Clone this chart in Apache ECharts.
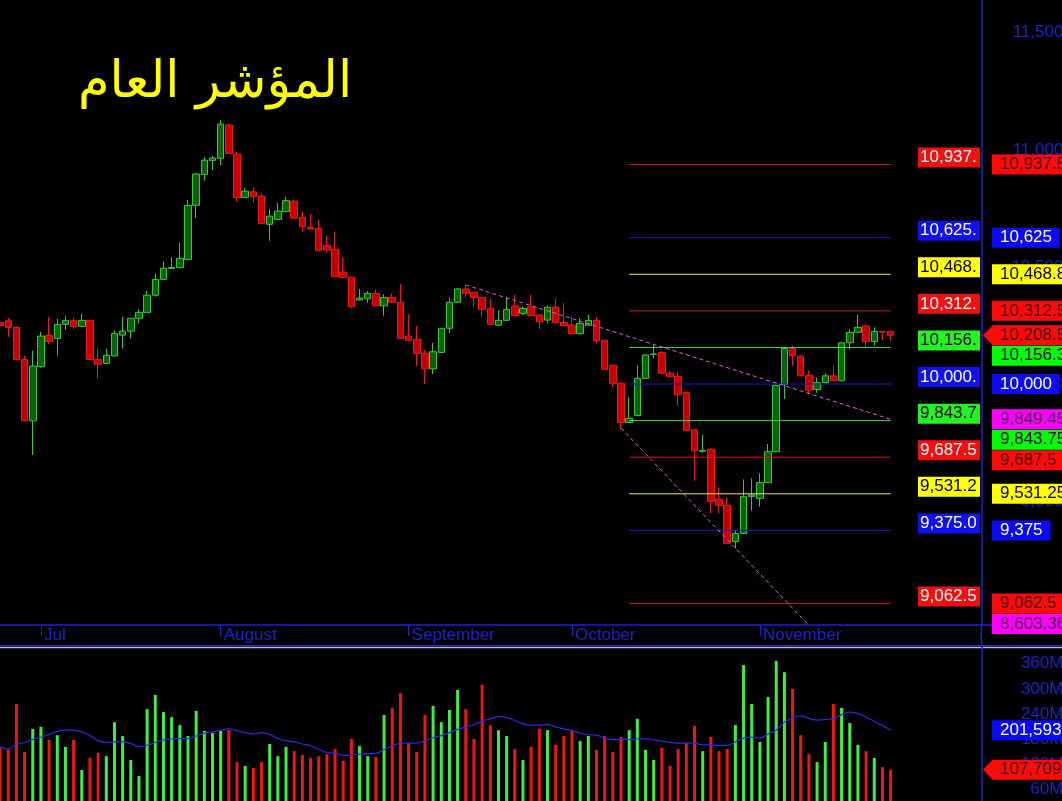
<!DOCTYPE html>
<html><head><meta charset="utf-8">
<style>html,body{margin:0;padding:0;background:#000;}#c{width:1062px;height:801px;}</style>
<script src="https://cdn.jsdelivr.net/npm/echarts@6/dist/echarts.min.js"></script>
</head><body><div id="c"></div>
<script>
// ---------------- DATA ----------------
const chartTitle = 'المؤشر العام';
const opens = [10262,10270,10242,10105,9843,10074,10208,10195,10255,10272,
 10246,10272,10105,10088,10120,10209,10226,10281,10306,10379,
 10447,10494,10497,10532,10763,10895,10955,10964,11106,10982,
 10797,10821,10803,10682,10703,10736,10781,10712,10669,10665,
 10592,10576,10478,10456,10359,10364,10387,10334,10370,10349,
 10205,10191,10131,10065,10135,10238,10349,10406,10392,10370,
 10323,10251,10272,10333,10302,10330,10295,10273,10329,10263,
 10252,10215,10251,10272,10187,10080,10003,9836,9865,10024,
 10126,10134,10046,10033,9965,9804,9713,9721,9508,9483,
 9327,9362,9520,9512,9579,9711,9999,10152,10120,10037,
 9977,10006,10035,10014,10176,10221,10248,10182,10225,10225];
const closes = [10250,10242,10105,9843,10077,10205,10182,10255,10272,10246,
 10272,10105,10084,10123,10216,10226,10281,10306,10379,10447,
 10494,10498,10537,10763,10897,10956,10965,11110,10985,10796,
 10824,10800,10686,10717,10739,10783,10708,10672,10662,10569,
 10572,10458,10456,10330,10367,10387,10334,10370,10349,10195,
 10185,10131,10065,10138,10238,10349,10406,10387,10370,10319,
 10255,10272,10319,10292,10323,10293,10266,10328,10262,10249,
 10215,10259,10272,10185,10063,10003,9836,9854,10024,10124,
 10128,10046,10031,9954,9801,9715,9716,9499,9482,9320,
 9362,9519,9526,9579,9711,9994,10152,10121,10035,9974,
 10006,10035,10014,10176,10221,10242,10181,10225,10222,10208.5];
const lows = [10240,10201,10100,9840,9697,10070,10171,10120,10231,10234,
 10244,10103,10024,10085,10118,10152,10195,10259,10304,10373,
 10445,10492,10495,10530,10708,10868,10914,10935,10983,10778,
 10795,10778,10684,10612,10700,10734,10706,10650,10660,10567,
 10561,10456,10454,10323,10357,10347,10332,10292,10347,10193,
 10183,10077,10000,10043,10133,10219,10347,10370,10330,10287,
 10253,10249,10270,10290,10295,10291,10235,10259,10260,10247,
 10213,10213,10249,10174,10060,9986,9807,9834,9863,10022,
 10110,10044,10029,9906,9798,9587,9707,9448,9448,9318,
 9298,9360,9459,9476,9577,9709,9936,10078,10033,9957,
 9963,10004,10012,10012,10148,10219,10159,10164,10188,10185];
const highs = [10275,10282,10245,10120,10142,10222,10287,10278,10290,10282,
 10300,10274,10152,10151,10228,10287,10282,10319,10398,10470,
 10525,10542,10603,10786,10900,10968,10974,11127,11110,10992,
 10836,10840,10817,10746,10774,10800,10789,10736,10726,10700,
 10632,10650,10541,10458,10406,10397,10404,10383,10387,10427,
 10299,10248,10145,10176,10240,10370,10410,10423,10394,10372,
 10363,10316,10370,10380,10330,10380,10297,10336,10366,10347,
 10285,10281,10295,10287,10190,10082,10005,9943,10081,10127,
 10167,10142,10056,10053,9968,9808,9782,9725,9559,9516,
 9377,9593,9597,9619,9744,9998,10156,10164,10123,10057,
 10027,10046,10078,10180,10234,10295,10256,10242,10226,10226];
// volume in millions
const volumesM = [161,156,264,150,205,210,179,190,162,179,
 107,136,148,140,221,188,131,93,252,286,
 245,233,214,188,248,200,195,200,202,126,
 117,112,126,169,140,162,152,143,136,140,
 145,157,129,181,164,140,138,238,255,290,
 171,150,238,260,221,250,298,252,181,310,
 214,202,188,157,131,162,205,202,167,188,
 200,176,188,155,188,150,186,202,229,155,
 131,160,117,157,171,212,152,186,152,157,
 214,357,264,174,281,367,340,300,190,145,
 126,174,264,255,219,167,152,136,114,107.709];
// volume moving average, millions
const volumeAvgM = [163,157,169,172,180,185,192,199,202,202,
 198,189,177,172,174,174,170,163,166,173,
 179,181,182,182,188,195,198,202,205,201,
 196,193,196,192,182,177,174,169,165,156,
 149,147,142,143,145,146,147,156,164,171,
 171,171,177,184,189,196,204,210,215,224,
 229,234,232,225,217,214,214,215,210,205,
 201,195,191,190,183,179,180,180,181,182,
 179,176,173,171,171,171,167,167,166,166,
 174,183,185,183,193,202,221,231,236,230,
 226,227,230,239,245,242,233,223,213,201.593];
const monthTickIndex = [5, 27, 50, 70, 93];
const monthLabels = ['Jul', 'August', 'September', 'October', 'November'];
const levelValues = [10937.5, 10625, 10468.75, 10312.5, 10156.25, 10000, 9843.75, 9687.5, 9531.25, 9375, 9062.5];
const levelColors = ['red','blue','yellow','red','green','blue','green','red','yellow','blue','red'];
const levelFrom = 77, levelTo = 109;
const upperTrend = [[57, 10423], [109, 9849.45]];
const lowerTrend = [[76, 9812], [109, 8603.36]];
const priceTickLabels = [9000, 9500, 10000, 10500, 11000, 11500];
const volumeTickLabelsM = [60, 120, 180, 240, 300, 360];

// ---------------- LAYOUT / STYLE ----------------
const SLOTS = 120, BAND = 8.17, GL = -4, GW = SLOTS * BAND;
const PT = 0, PH = 625, PMIN = 8971, PMAX = 11640;
const VT = 647, VH = 168, VMAX = 400;
const FONT = '"Liberation Sans", Arial, sans-serif';
const AXIS_BLUE = '#2020cc';
const GREEN_BORDER = '#33cc33', GREEN_FILL = '#0b620b', RED_BORDER = '#ee1a1a', RED_FILL = '#c40000';
const VOL_GREEN = '#3ef03e', VOL_RED = '#ee1616';
const PAL = {
  red:    {line:'#d81818', inBg:'#f01010', inText:'#ffffff', tagBg:'#ff0a0a', tagText:'#3a0000'},
  blue:   {line:'#1818d0', inBg:'#1010f0', inText:'#ffffff', tagBg:'#0a0af4', tagText:'#ffffff'},
  yellow: {line:'#eeee60', inBg:'#ffff10', inText:'#000000', tagBg:'#ffff00', tagText:'#000000'},
  green:  {line:'#44dd44', inBg:'#22f422', inText:'#000000', tagBg:'#00ff00', tagText:'#000000'},
  magenta:{tagBg:'#ff00ff', tagText:'#4a004a'}
};
const pxToX = px => (px - GL) / BAND - 0.5;
const IN_LABEL_X = pxToX(918), TAG_X = pxToX(988);
const ARROW = 'path://M0,10L10,0L10,20Z';

function commas(s){ const p = String(s).split('.'); return p[0].replace(/\B(?=(\d{3})+(?!\d))/g, ',') + (p[1] ? '.' + p[1] : ''); }
function fmt6(v){ let s = Number(v).toPrecision(6); if (s.indexOf('.') >= 0) s = s.replace(/0+$/, '').replace(/\.$/, ''); return commas(s); }

const cats = Array.from({length: SLOTS}, (_, i) => String(i));
const n = opens.length;
const last = n - 1;

// price tags (right side)
const priceTags = levelValues.map((v, i) => ({v, bg: PAL[levelColors[i]].tagBg, fg: PAL[levelColors[i]].tagText, arrow:false}));
priceTags.push({v: closes[last], bg: PAL.red.tagBg, fg: PAL.red.tagText, arrow:true});
priceTags.push({v: upperTrend[1][1], bg: PAL.magenta.tagBg, fg: PAL.magenta.tagText, arrow:false});
priceTags.push({v: lowerTrend[1][1], bg: PAL.magenta.tagBg, fg: PAL.magenta.tagText, arrow:false});
// collision handling: clamp tag into the pane and push overlapping tags down
const yPix = v => PT + (PMAX - v) / (PMAX - PMIN) * PH;
priceTags.forEach(t => { t.raw = yPix(t.v); t.y = Math.min(t.raw, PT + PH - 1); });
const sorted = priceTags.slice().sort((a, b) => a.y - b.y);
for (let i = 1; i < sorted.length; i++) if (sorted[i].y < sorted[i-1].y + 20.5) sorted[i].y = sorted[i-1].y + 20.5;
priceTags.forEach(t => t.dy = t.y - t.raw);

function tagItem(t, text){
  return {
    value: [TAG_X, t.v], name: text,
    symbol: t.arrow ? ARROW : 'circle', symbolSize: t.arrow ? [10, 20] : 0,
    symbolOffset: [0, t.dy],
    itemStyle: {color: t.bg, opacity: 1},
    label: {backgroundColor: t.bg, color: t.fg, distance: t.arrow ? -1 : 4}
  };
}
const tagLabelBase = {show: true, position: 'right', formatter: '{b}', fontSize: 17, fontFamily: FONT, padding: [2, 8, 1, 8], lineHeight: 17, opacity: 1};

const series = [];
// candles
series.push({
  type: 'candlestick', xAxisIndex: 0, yAxisIndex: 0, barWidth: 7,
  data: opens.map((o, i) => [o, closes[i], lows[i], highs[i]]),
  itemStyle: {color: GREEN_FILL, color0: RED_FILL, borderColor: GREEN_BORDER, borderColor0: RED_BORDER, borderWidth: 1}
});
// level lines
levelValues.forEach((v, i) => series.push({
  type: 'line', xAxisIndex: 1, yAxisIndex: 0, symbol: 'none', silent: true,
  data: [[levelFrom, v], [levelTo, v]],
  lineStyle: {color: PAL[levelColors[i]].line, width: 1}
}));
// trend lines
[upperTrend, lowerTrend].forEach(tr => series.push({
  type: 'line', xAxisIndex: 1, yAxisIndex: 0, symbol: 'none', silent: true, clip: true,
  data: tr, lineStyle: {color: '#d860d8', width: 1, type: [4, 3]}
}));
// in-plot labels
series.push({
  type: 'scatter', xAxisIndex: 1, yAxisIndex: 0, symbolSize: 0, clip: false, silent: true, z: 6,
  itemStyle: {opacity: 1},
  data: levelValues.map((v, i) => ({value: [IN_LABEL_X, v], label: {backgroundColor: PAL[levelColors[i]].inBg, color: PAL[levelColors[i]].inText}})),
  label: {show: true, position: 'right', distance: 0, offset: [0, -7], formatter: p => commas(p.value[1].toFixed(2)), opacity: 1,
    fontSize: 17, fontFamily: FONT, padding: [2, 0, 1, 2], lineHeight: 17, width: 60, overflow: 'truncate', ellipsis: ''}
});
// price tags
series.push({
  type: 'scatter', xAxisIndex: 1, yAxisIndex: 0, clip: false, silent: true, z: 8,
  itemStyle: {opacity: 1},
  data: priceTags.map(t => tagItem(t, fmt6(t.v))),
  label: tagLabelBase
});
// volume bars
series.push({
  type: 'bar', xAxisIndex: 2, yAxisIndex: 1, barWidth: 3, silent: true,
  data: volumesM.map((v, i) => ({value: v, itemStyle: {color: closes[i] >= opens[i] ? VOL_GREEN : VOL_RED}}))
});
series.push({
  type: 'line', xAxisIndex: 2, yAxisIndex: 1, symbol: 'none', smooth: 0.4, silent: true,
  data: volumeAvgM, lineStyle: {color: '#2a2ae8', width: 1.2}
});
// volume tags
const volTags = [
  {v: volumeAvgM[last], bg: PAL.blue.tagBg, fg: '#ffffff', arrow: false},
  {v: volumesM[last], bg: PAL.red.tagBg, fg: PAL.red.tagText, arrow: true}
];
volTags.forEach(t => t.dy = 0);
series.push({
  type: 'scatter', xAxisIndex: 3, yAxisIndex: 1, clip: false, silent: true, z: 8,
  itemStyle: {opacity: 1},
  data: volTags.map(t => tagItem(t, commas(String(Math.round(t.v * 1e6))))),
  label: tagLabelBase
});

const option = {
  backgroundColor: '#000000',
  animation: false,
  title: {text: chartTitle, left: 73, top: 53, textStyle: {color: '#ffff00', fontSize: 51, fontWeight: 'normal', fontFamily: '"DejaVu Sans", sans-serif'}},
  grid: [
    {left: GL, top: PT, width: GW, height: PH, containLabel: false, outerBoundsMode: 'none'},
    {left: GL, top: VT, width: GW, height: VH, containLabel: false, outerBoundsMode: 'none'}
  ],
  graphic: [
    {type: 'line', shape: {x1: 976, y1: 625, x2: 1062, y2: 625}, style: {stroke: AXIS_BLUE, lineWidth: 1.5}, silent: true},
    {type: 'line', shape: {x1: 0, y1: 645.5, x2: 1062, y2: 645.5}, style: {stroke: '#3030d8', lineWidth: 1}, silent: true},
    {type: 'line', shape: {x1: 0, y1: 647.5, x2: 1062, y2: 647.5}, style: {stroke: '#b4b4ff', lineWidth: 1.5}, silent: true},
    {type: 'line', shape: {x1: 981.4, y1: 625, x2: 981.4, y2: 647}, style: {stroke: AXIS_BLUE, lineWidth: 1.5}, silent: true}
  ],
  xAxis: [
    {type: 'category', gridIndex: 0, data: cats, boundaryGap: true,
     axisLine: {show: true, onZero: false, lineStyle: {color: AXIS_BLUE, width: 1.5}},
     axisTick: {show: true, alignWithLabel: true, interval: i => monthTickIndex.includes(i), length: 11, lineStyle: {color: AXIS_BLUE}},
     axisLabel: {show: true, interval: i => monthTickIndex.includes(i), formatter: (val, i) => { const k = monthTickIndex.indexOf(i); return k >= 0 ? monthLabels[k] : ''; },
       align: 'left', margin: 2, padding: [0, 0, 0, 3], color: AXIS_BLUE, fontSize: 17, fontFamily: FONT},
     splitLine: {show: false}},
    {type: 'value', gridIndex: 0, min: -0.5, max: SLOTS - 0.5, show: false},
    {type: 'category', gridIndex: 1, data: cats, boundaryGap: true, position: 'top',
     axisLine: {show: false}, axisTick: {show: false}, axisLabel: {show: false}, splitLine: {show: false}},
    {type: 'value', gridIndex: 1, min: -0.5, max: SLOTS - 0.5, show: false}
  ],
  yAxis: [
    {type: 'value', gridIndex: 0, position: 'right', offset: 5, min: PMIN, max: PMAX,
     axisLine: {show: true, onZero: false, lineStyle: {color: AXIS_BLUE, width: 1.5}}, axisTick: {show: false}, splitLine: {show: false},
     axisLabel: {show: true, customValues: priceTickLabels, formatter: v => commas(String(v)), align: 'right', margin: 82, color: AXIS_BLUE, fontSize: 17, fontFamily: FONT}},
    {type: 'value', gridIndex: 1, position: 'right', offset: 5, min: 0, max: VMAX,
     axisLine: {show: true, onZero: false, lineStyle: {color: AXIS_BLUE, width: 1.5}}, axisTick: {show: false}, splitLine: {show: false},
     axisLabel: {show: true, customValues: volumeTickLabelsM, formatter: v => v + 'M', align: 'right', margin: 82, color: AXIS_BLUE, fontSize: 17, fontFamily: FONT}}
  ],
  series
};
const chart = echarts.init(document.getElementById('c'), null, {renderer: 'canvas'});
chart.setOption(option);
</script>
</body></html>
